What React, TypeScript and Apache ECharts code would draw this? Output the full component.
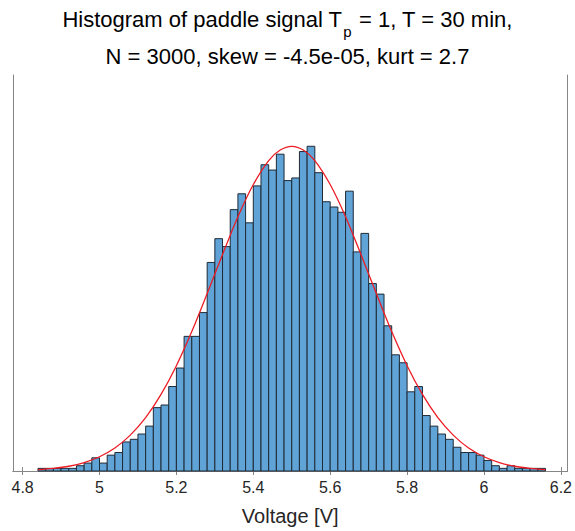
import React, { useEffect, useRef } from "react";
import * as echarts from "echarts";

// Histogram bins (V): first bin start and bin width
const BIN_START = 4.84;
const BIN_WIDTH = 0.02;
// Counts per bin
const COUNTS = [
  1, 1, 1, 1, 1, 2, 3, 5, 3, 6,
  7, 11, 12, 14, 17, 24, 25, 32, 39, 51,
  51, 60, 79, 88, 85, 99, 105, 94, 108, 116,
  114, 120, 110, 111, 121, 123, 113, 102, 100, 98,
  106, 83, 90, 71, 67, 55, 44, 41, 30, 32,
  21, 17, 14, 12, 9, 7, 7, 6, 4, 2,
  1, 2, 1, 1, 1, 1,
];
// Fitted curve (red)
const CURVE_X = [
  4.84, 4.88, 4.92, 4.96, 5.0, 5.04, 5.08, 5.12, 5.16, 5.2, 5.24, 5.28,
  5.32, 5.36, 5.4, 5.44, 5.47, 5.5, 5.53, 5.56, 5.6, 5.64, 5.68, 5.72, 5.76,
  5.8, 5.84, 5.88, 5.92, 5.96, 6.0, 6.04, 6.08, 6.12, 6.16,
];
const CURVE_Y = [
  0.5, 1.0, 1.8, 3.2, 5.4, 8.7, 13.6, 20.2, 29.0, 39.9, 52.8, 67.2,
  82.0, 96.3, 108.5, 117.6, 121.6, 123.0, 121.6, 117.6, 108.5, 96.3, 82.0, 67.2, 52.8,
  39.9, 29.0, 20.2, 13.6, 8.7, 5.4, 3.2, 1.8, 1.0, 0.5,
];
const X_TICKS = [4.8, 5, 5.2, 5.4, 5.6, 5.8, 6, 6.2];
const X_MIN = 4.775;
const X_MAX = 6.217;
const Y_MAX = 150;

const FONT = "'Liberation Sans', Arial, Helvetica, sans-serif";
const AXIS_GREY = "#868686";
const TEXT = "#262626";

export default function App() {
  const ref = useRef<HTMLDivElement>(null);
  useEffect(() => {
    if (!ref.current) return;
    const chart = echarts.init(ref.current, undefined, { renderer: "svg" });
    const bins = COUNTS.map((c, i) => [
      BIN_START + i * BIN_WIDTH,
      BIN_START + (i + 1) * BIN_WIDTH,
      c,
    ]);
    const curve = CURVE_X.map((x, i) => [x, CURVE_Y[i]]);
    const fmt = (v: number) => String(Math.round(v * 10) / 10);
    chart.setOption({
      animation: false,
      textStyle: { fontFamily: FONT },
      title: [
        {
          left: "center",
          top: 2,
          text: "{a|Histogram of paddle signal T}{s|p}{a| = 1, T = 30 min,}",
          textStyle: {
            fontWeight: "normal",
            rich: {
              a: { fontSize: 22, fontFamily: FONT, color: "#000", lineHeight: 24, fontWeight: "normal" },
              s: {
                fontSize: 15,
                fontFamily: FONT,
                color: "#000",
                lineHeight: 15,
                fontWeight: "normal",
                padding: [25, 1, 0, 1],
              },
            },
          },
        },
        {
          left: "center",
          top: 40,
          text: "N = 3000, skew = -4.5e-05, kurt = 2.7",
          textStyle: { fontSize: 22, fontFamily: FONT, color: "#000", fontWeight: "normal" },
        },
      ],
      grid: { left: 13, right: 2, top: 75, bottom: 57, containLabel: false },
      xAxis: [
        {
          type: "value",
          position: "bottom",
          min: X_MIN,
          max: X_MAX,
          name: "Voltage [V]",
          nameLocation: "middle",
          nameGap: 35,
          nameTextStyle: { fontSize: 20, color: TEXT, fontFamily: FONT },
          axisLine: { show: true, lineStyle: { color: AXIS_GREY, width: 1 } },
          axisTick: {
            show: true,
            inside: true,
            length: 4,
            customValues: X_TICKS,
            lineStyle: { color: AXIS_GREY },
          },
          axisLabel: {
            show: true,
            customValues: X_TICKS,
            formatter: fmt,
            fontSize: 16,
            color: TEXT,
            margin: 8,
            fontFamily: FONT,
          },
          splitLine: { show: false },
        },
        {
          type: "value",
          position: "top",
          min: X_MIN,
          max: X_MAX,
          axisLine: { show: true, lineStyle: { color: AXIS_GREY, width: 1 } },
          axisTick: {
            show: true,
            inside: true,
            length: 4,
            customValues: X_TICKS,
            lineStyle: { color: AXIS_GREY },
          },
          axisLabel: { show: false },
          splitLine: { show: false },
        },
      ],
      yAxis: [
        {
          type: "value",
          position: "left",
          min: 0,
          max: Y_MAX,
          axisLine: { show: true, lineStyle: { color: AXIS_GREY, width: 1 } },
          axisTick: { show: false },
          axisLabel: { show: false },
          splitLine: { show: false },
        },
        {
          type: "value",
          position: "right",
          min: 0,
          max: Y_MAX,
          axisLine: { show: true, lineStyle: { color: AXIS_GREY, width: 1 } },
          axisTick: { show: false },
          axisLabel: { show: false },
          splitLine: { show: false },
        },
      ],
      series: [
        {
          type: "custom",
          xAxisIndex: 0,
          yAxisIndex: 0,
          data: bins,
          encode: { x: [0, 1], y: 2 },
          renderItem: (params: any, api: any) => {
            const p0 = api.coord([api.value(0), api.value(2)]);
            const p1 = api.coord([api.value(1), 0]);
            return {
              type: "rect",
              shape: { x: p0[0], y: p0[1], width: p1[0] - p0[0], height: p1[1] - p0[1] },
              style: { fill: "#5fa3d7", stroke: "#1f2a35", lineWidth: 1 },
            };
          },
          z: 2,
        },
        {
          type: "line",
          xAxisIndex: 0,
          yAxisIndex: 0,
          data: curve,
          smooth: 0.3,
          symbol: "none",
          lineStyle: { color: "#ec1c24", width: 1.3 },
          z: 3,
        },
      ],
    });
    return () => chart.dispose();
  }, []);
  return (
    <div
      ref={ref}
      style={{ position: "fixed", left: 0, top: 0, width: 575, height: 531, background: "#fff" }}
    />
  );
}
